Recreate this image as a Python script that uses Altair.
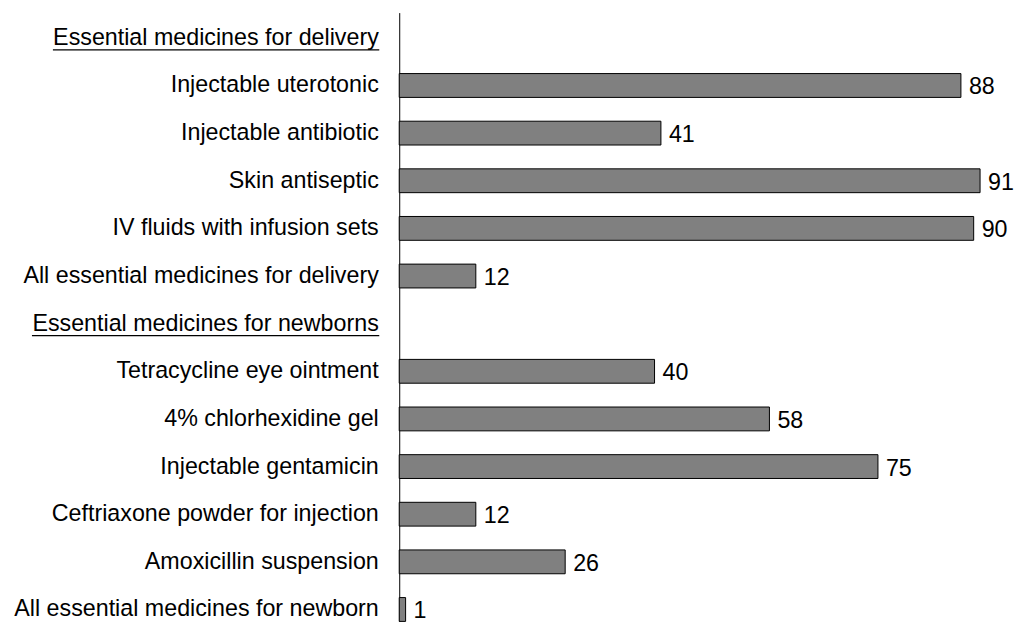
import altair as alt
import pandas as pd

categories = [
    "Essential medicines for delivery",
    "Injectable uterotonic",
    "Injectable antibiotic",
    "Skin antiseptic",
    "IV fluids with infusion sets",
    "All essential medicines for delivery",
    "Essential medicines for newborns",
    "Tetracycline eye ointment",
    "4% chlorhexidine gel",
    "Injectable gentamicin",
    "Ceftriaxone  powder for injection",
    "Amoxicillin suspension",
    "All essential medicines for newborn",
]
values = [None, 88, 41, 91, 90, 12, None, 40, 58, 75, 12, 26, 1]
headers = ["Essential medicines for delivery", "Essential medicines for newborns"]

df = pd.DataFrame({"item": categories, "value": values})

FONT = "Liberation Sans"
FS = 23.3
FS_VAL = 23.3

y_enc = alt.Y(
    "item:N",
    sort=categories,
    scale=alt.Scale(domain=categories, paddingInner=0.5, paddingOuter=0.14, align=1),
    axis=alt.Axis(
        title=None,
        ticks=False,
        grid=False,
        domainColor="black",
        domainWidth=1,
        labelFont=FONT,
        labelFontSize=FS,
        labelColor="black",
        labelPadding=21,
        labelLimit=0,
    ),
)
x_scale = alt.Scale(domain=[0, 91], nice=False, zero=True)

base = alt.Chart(df)

bars = base.transform_filter("isValid(datum.value)").mark_bar(
    color="#808080", stroke="black", strokeWidth=1
).encode(
    x=alt.X("value:Q", scale=x_scale, axis=None),
    y=y_enc,
)

labels = base.transform_filter("isValid(datum.value)").mark_text(
    align="left", baseline="middle", dx=8, dy=2, font=FONT, fontSize=FS_VAL, color="black"
).encode(
    x=alt.X("value:Q", scale=x_scale, axis=None),
    y=alt.Y("item:N", sort=categories),
    text=alt.Text("value:Q"),
)

ul1 = base.transform_filter(alt.datum.item == headers[0]).mark_rule(
    color="black", strokeWidth=1.2, yOffset=12
).encode(
    y=alt.Y("item:N", sort=categories),
    x=alt.value(-347),
    x2=alt.value(-20),
)
ul2 = base.transform_filter(alt.datum.item == headers[1]).mark_rule(
    color="black", strokeWidth=1.2, yOffset=12
).encode(
    y=alt.Y("item:N", sort=categories),
    x=alt.value(-368),
    x2=alt.value(-20),
)

chart = (
    alt.layer(bars, labels, ul1, ul2)
    .properties(
        width=582,
        height=610,
        background="white",
        autosize=alt.AutoSizeParams(type="none"),
        padding={"left": 392, "top": 4, "right": 34, "bottom": 0},
    )
    .configure_view(strokeWidth=0, stroke=None)
    .configure_axis(grid=False)
)

chart.save("out.html", embed_options={"renderer": "svg", "actions": False})
